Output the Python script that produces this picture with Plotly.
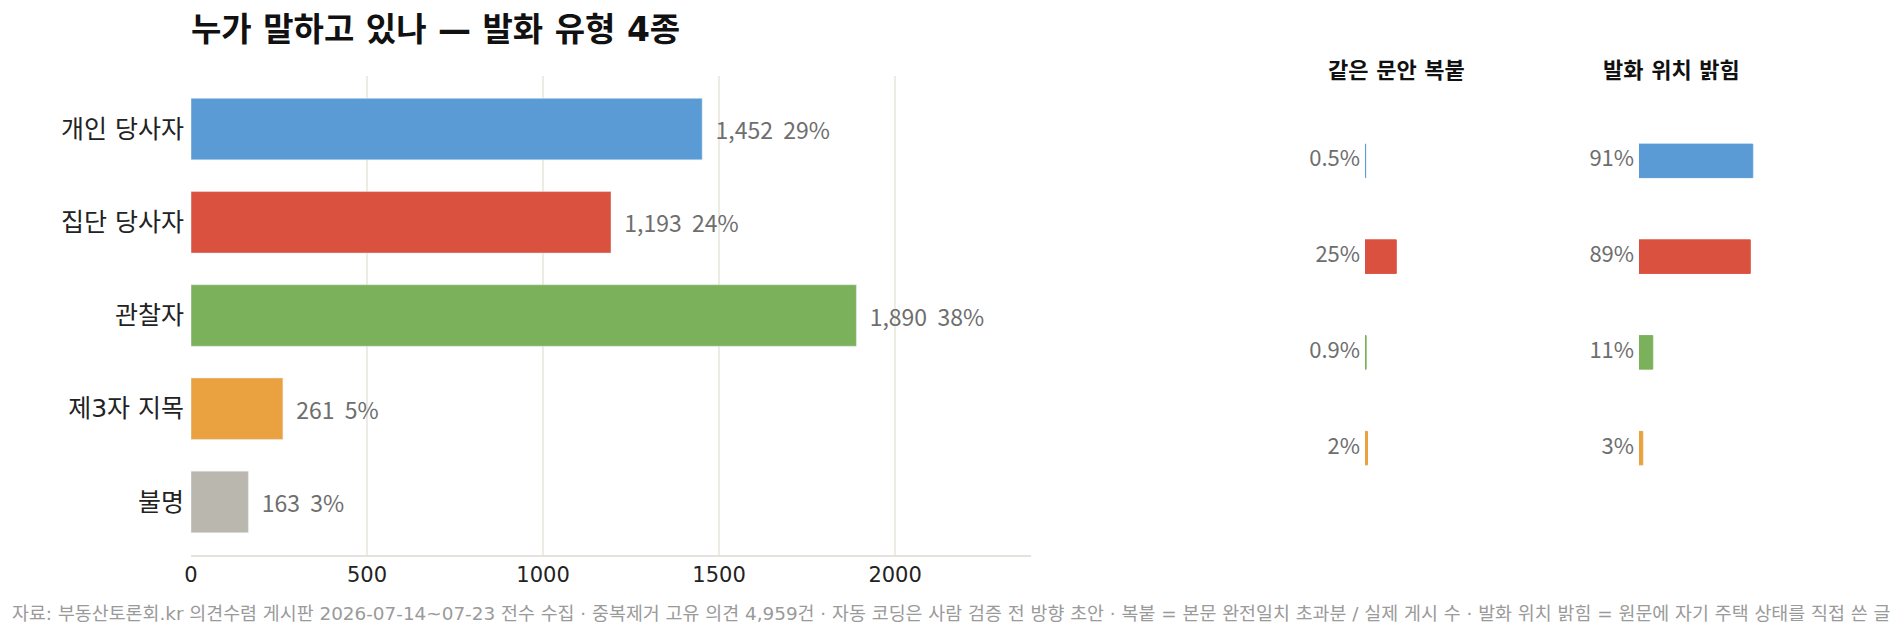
import plotly.graph_objects as go

# 발화 유형별 건수
speaker_types = ["개인 당사자", "집단 당사자", "관찰자", "제3자 지목", "불명"]
speaker_counts = [1452, 1193, 1890, 261, 163]
type_colors = ["#5B9BD5", "#DA513F", "#7AB15A", "#E9A23F", "#BAB7AF"]

# 오른쪽 두 패널 (불명 제외)
dup_share = [0.5, 25, 0.9, 2]          # 같은 문안 복붙, %
disclosed_share = [91, 89, 11, 3]      # 발화 위치 밝힘, %
panel_titles = ["같은 문안 복붙", "발화 위치 밝힘"]

x_ticks = [0, 500, 1000, 1500, 2000]

FONT = "Noto Sans CJK KR"
MIXED = "DejaVu Sans, Noto Sans CJK KR"   # 라틴 글자는 DejaVu, 한글은 Noto
W, H = 1902, 638


def px_x(p):
    return p / W


def px_y(p):
    return 1 - p / H


total = sum(speaker_counts)
bar_labels = [f"\u00a0\u00a0{c:,}\u00a0 {round(c / total * 100):.0f}%" for c in speaker_counts]

fig = go.Figure()

# 왼쪽 가로 막대
fig.add_trace(go.Bar(
    x=speaker_counts,
    y=speaker_types,
    orientation="h",
    marker=dict(color=type_colors),
    width=0.66,
    text=bar_labels,
    textposition="outside",
    textfont=dict(family=FONT, size=23, color="#6E6E6E"),
    cliponaxis=False,
    xaxis="x", yaxis="y",
    showlegend=False,
))

# 오른쪽 작은 패널 2개
small_types = speaker_types[:4]
small_colors = type_colors[:4]
for i, vals in enumerate([dup_share, disclosed_share]):
    ax = str(i + 2)
    fig.add_trace(go.Bar(
        x=vals,
        y=small_types,
        orientation="h",
        marker=dict(color=small_colors, line=dict(color=small_colors, width=1)),
        width=0.35,
        xaxis="x" + ax, yaxis="y" + ax,
        showlegend=False,
    ))
    fig.add_trace(go.Scatter(
        x=[0] * len(vals),
        y=small_types,
        mode="text",
        text=[f"{v:g}%\u00a0" for v in vals],
        textposition="middle left",
        textfont=dict(family=FONT, size=22, color="#6E6E6E"),
        cliponaxis=False,
        xaxis="x" + ax, yaxis="y" + ax,
        showlegend=False,
    ))

hidden = dict(visible=False, showgrid=False, zeroline=False, automargin=False)

fig.update_layout(
    width=W, height=H,
    margin=dict(l=0, r=0, t=0, b=0),
    paper_bgcolor="white",
    plot_bgcolor="white",
    font=dict(family=MIXED, color="#222222"),
    title=dict(
        text="<b>누가 말하고 있나 — 발화 유형 4종</b>",
        font=dict(family=MIXED, size=33, color="#111111"),
        x=px_x(191), xanchor="left", xref="paper",
        y=px_y(29), yanchor="middle", yref="container",
    ),
    xaxis=dict(
        domain=[px_x(191), px_x(1031)],
        range=[0, 2386],
        tickvals=x_ticks,
        ticktext=[str(t) for t in x_ticks],
        tickfont=dict(family="DejaVu Sans", size=21, color="#222222"),
        showgrid=True, gridcolor="#EDEBE4", gridwidth=2,
        zeroline=False,
        showline=True, linecolor="#E4E2DB", linewidth=2,
        ticks="", automargin=False,
        anchor="y",
    ),
    yaxis=dict(
        domain=[px_y(555), px_y(76)],
        categoryorder="array", categoryarray=speaker_types,
        range=[4.57, -0.57],
        tickfont=dict(family=MIXED, size=25, color="#222222"),
        showgrid=False, zeroline=False, showline=False,
        ticks="", ticklabelstandoff=6, automargin=False,
        anchor="x",
    ),
    xaxis2=dict(domain=[px_x(1365), px_x(1515)], range=[0, 120], anchor="y2", **hidden),
    yaxis2=dict(domain=[px_y(496), px_y(113)], categoryorder="array",
                categoryarray=small_types, range=[3.5, -0.5], anchor="x2", **hidden),
    xaxis3=dict(domain=[px_x(1639), px_x(1789)], range=[0, 120], anchor="y3", **hidden),
    yaxis3=dict(domain=[px_y(496), px_y(113)], categoryorder="array",
                categoryarray=small_types, range=[3.5, -0.5], anchor="x3", **hidden),
)

# 패널 제목
for title, cx in zip(panel_titles, [1396, 1671]):
    fig.add_annotation(
        text=f"<b>{title}</b>",
        x=px_x(cx), y=px_y(70), xref="paper", yref="paper",
        xanchor="center", yanchor="middle", showarrow=False,
        font=dict(family=MIXED, size=22, color="#111111"),
    )

# 출처
fig.add_annotation(
    text="자료: 부동산토론회.kr 의견수렴 게시판 2026-07-14~07-23 전수 수집 · 중복제거 고유 의견 4,959건 · "
         "자동 코딩은 사람 검증 전 방향 초안 · 복붙 = 본문 완전일치 초과분 / 실제 게시 수 · "
         "발화 위치 밝힘 = 원문에 자기 주택 상태를 직접 쓴 글",
    x=0.5, y=px_y(613), xref="paper", yref="paper",
    xanchor="center", yanchor="middle", showarrow=False,
    font=dict(family=MIXED, size=18.4, color="#9A9A9A"),
)

# 페이지 기본 여백 제거, 모드바 숨김
fig.write_html("out.html", config={"displayModeBar": False},
               post_script="document.body.style.margin='0';")
